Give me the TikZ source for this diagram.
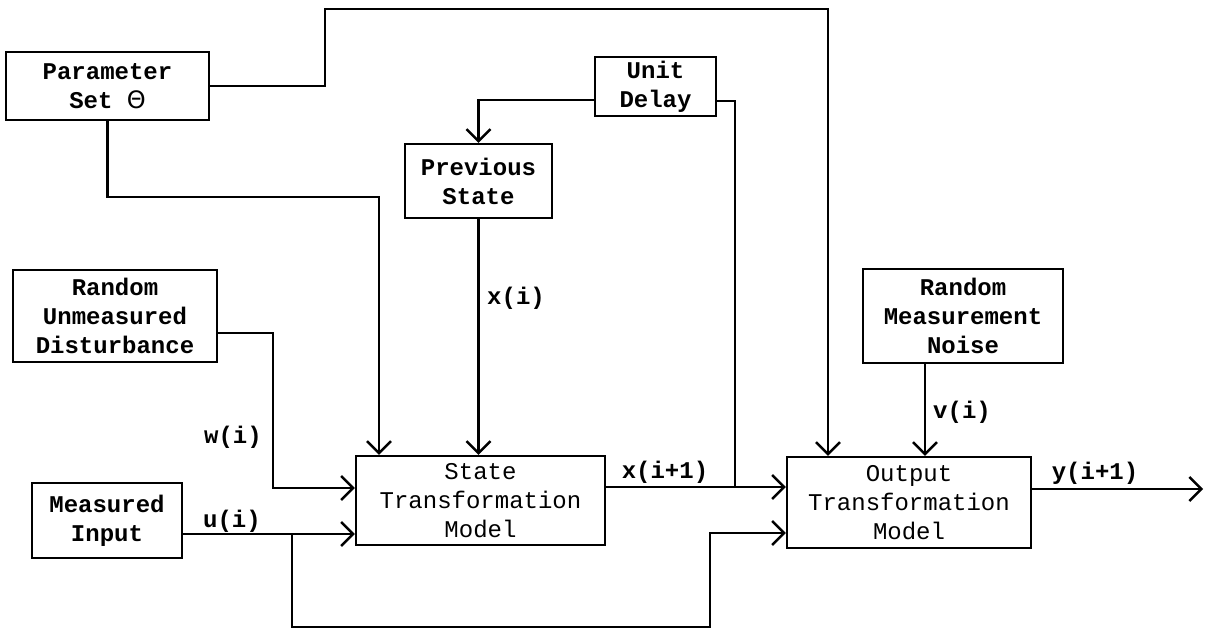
\documentclass[tikz,border=0pt]{standalone}
\usepackage{fontspec}
\setmainfont{Liberation Mono}
\newfontfamily\thetafont{DejaVu Sans}
\usetikzlibrary{arrows.meta}
\begin{document}
\begin{tikzpicture}[x=1pt,y=-1pt,
  every node/.style={font=\fontsize{24}{29}\selectfont},
  blk/.style={draw,line width=2.4pt,inner sep=0pt,align=center,font=\fontsize{24}{29}\selectfont\bfseries},
  blkr/.style={blk,font=\fontsize{24}{29}\selectfont},
  lbl/.style={inner sep=0pt,font=\fontsize{24}{29}\selectfont\bfseries},
  conn/.style={line width=2.4pt},
  arr/.style={conn,-{Straight Barb[length=12pt,width=24pt,line width=2.4pt]}}]
\useasboundingbox (0,0) rectangle (1205,631);
% blocks
\node[blk,minimum width=203pt,minimum height=68pt] (param) at (107.5,86) {Parameter\\Set {\thetafont\mdseries Θ}};
\node[blk,minimum width=121pt,minimum height=59pt] (delay) at (655.5,86.5) {Unit\\Delay};
\node[blk,minimum width=147pt,minimum height=74pt] (prev) at (478.5,181) {Previous\\State};
\node[blk,minimum width=204pt,minimum height=92pt] (dist) at (115,316) {Random\\Unmeasured\\Disturbance};
\node[blk,minimum width=200pt,minimum height=94pt] (noise) at (963,316) {Random\\Measurement\\Noise};
\node[blkr,minimum width=249pt,minimum height=89pt] (state) at (480.5,500.5) {State\\Transformation\\Model};
\node[blkr,minimum width=244pt,minimum height=91pt] (output) at (909,502.5) {Output\\Transformation\\Model};
\node[blk,minimum width=150pt,minimum height=75pt] (input) at (107,520.5) {Measured\\Input};
% labels
\node[lbl] (lw) at (233,437) {w(i)};
\node[lbl] (lu) at (232,521) {u(i)};
\node[lbl] (lx) at (516,298) {x(i)};
\node[lbl] (lx1) at (665,472) {x(i+1)};
\node[lbl] (lv) at (962,412) {v(i)};
\node[lbl] (ly) at (1095,473) {y(i+1)};
% connector points
\coordinate (out) at (1203,489);
\coordinate (jx) at (735,487);
\coordinate (ju) at (292,534);
% connectors
\draw[arr] (param.east) -- (325,86) |- (828,9) -- (828,0 |- output.north);
\draw[arr] (param.south) |- (379,197) -- (379,0 |- state.north);
\draw[arr] (delay.west |- 0,100) -| (prev.north);
\draw[conn] (delay.east |- 0,101) -| (jx);
\draw[arr] (prev.south) -- (prev.south |- state.north);
\draw[arr] (dist.east |- 0,333) -| (273,488) -- (state.west |- 0,488);
\draw[arr] (input.east |- 0,534) -- (state.west |- 0,534);
\draw[arr] (ju) |- (710,627) |- (output.west |- 0,533);
\draw[arr] (state.east |- 0,487) -- (output.west |- 0,487);
\draw[arr] (925,0 |- noise.south) -- (925,0 |- output.north);
\draw[arr] (output.east |- 0,489) -- (out);
\end{tikzpicture}
\end{document}
